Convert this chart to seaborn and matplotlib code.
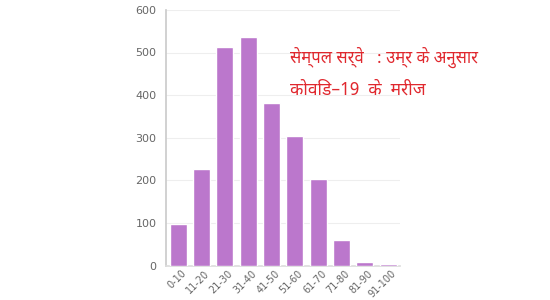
import matplotlib
matplotlib.use("Agg")
import matplotlib.pyplot as plt
import matplotlib.transforms as mtransforms
import seaborn as sns
import pandas as pd

categories = ["0-10", "11-20", "21-30", "31-40", "41-50", "51-60", "61-70", "71-80", "81-90", "91-100"]
values = [97, 227, 513, 536, 382, 305, 203, 60, 9, 3]
yticks = [0, 100, 200, 300, 400, 500, 600]
title_lines = ["सेम्पल सर्वे   : उम्र के अनुसार", "कोविड–19  के  मरीज"]

sns.set_theme(style="white")
plt.rcParams['font.family'] = ['Noto Sans Devanagari', 'Lohit Devanagari', 'Mukta', 'FreeSans', 'DejaVu Sans']

df = pd.DataFrame({"age": categories, "count": values})

fig = plt.figure(figsize=(5.5, 3.0), dpi=100)
ax = fig.add_axes([0.302, 0.115, 0.425, 0.852])
sns.barplot(data=df, x="age", y="count", color="#bb77cc", saturation=1, width=0.72, ax=ax, zorder=3)

ax.set_xlim(-0.52, 9.5)
ax.set_ylim(0, 600)
ax.set_yticks(yticks)
ax.set_xlabel("")
ax.set_ylabel("")
ax.grid(axis="y", color="#eeeeee", linewidth=0.8, zorder=0)
for s in ["top", "right"]:
    ax.spines[s].set_visible(False)
ax.spines["left"].set_color("#cccccc")
ax.spines["bottom"].set_color("#dddddd")
ax.tick_params(axis="y", labelsize=8, colors="#666666", length=0, pad=7)
ax.tick_params(axis="x", labelsize=7, colors="#666666", length=0, pad=2)
plt.setp(ax.get_yticklabels(), family=["DejaVu Sans"])
offset = mtransforms.ScaledTranslation(3 / 100, 0, fig.dpi_scale_trans)
for lab in ax.get_xticklabels():
    lab.set_rotation(45)
    lab.set_ha("right")
    lab.set_rotation_mode("anchor")
    lab.set_family(["DejaVu Sans"])
    lab.set_transform(lab.get_transform() + offset)

fig.text(0.527, 0.81, title_lines[0], color="#e0282e", fontsize=12, ha="left", va="center")
fig.text(0.527, 0.70, title_lines[1], color="#e0282e", fontsize=12.5, ha="left", va="center")

fig.savefig("out.png", dpi=100)
